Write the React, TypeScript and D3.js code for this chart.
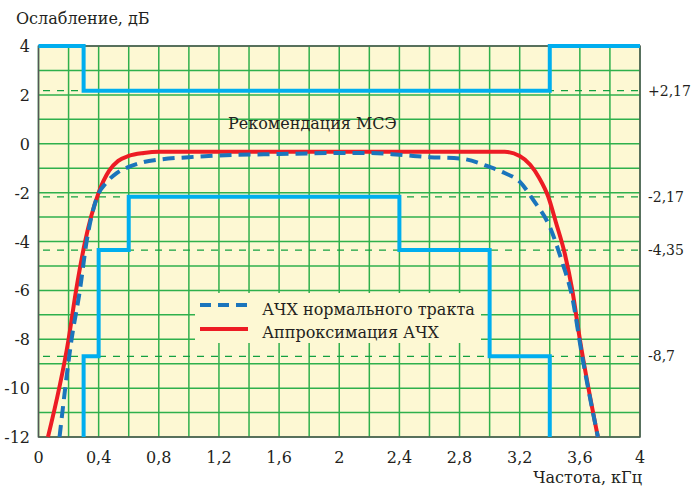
import React from "react"
import * as d3 from "d3"

const width = 693
const height = 486

// АЧХ нормального тракта (dashed blue)
const normX = [0.14, 0.22, 0.275, 0.32, 0.39, 0.45, 0.52, 0.6, 0.7, 0.8, 1.0, 1.2, 1.6, 2.0, 2.2, 2.4, 2.6, 2.8, 3.0, 3.1, 3.2, 3.29, 3.4, 3.48, 3.55, 3.61, 3.72]
const normY = [-12, -8, -6, -4, -2.17, -1.6, -1.2, -0.95, -0.75, -0.65, -0.55, -0.48, -0.42, -0.38, -0.38, -0.45, -0.55, -0.6, -0.95, -1.2, -1.55, -2.3, -3.4, -4.8, -6.3, -8.5, -12]

// Аппроксимация АЧХ (red)
const apprX = [0.063, 0.2, 0.25, 0.31, 0.4, 0.47, 0.53, 0.6, 0.7, 0.8, 3.1, 3.2, 3.27, 3.33, 3.39, 3.44, 3.5, 3.55, 3.6, 3.72]
const apprY = [-12, -8, -6, -4, -2, -1.1, -0.7, -0.5, -0.38, -0.33, -0.33, -0.5, -0.86, -1.4, -2.17, -3.2, -4.5, -6, -8, -12]

// Рекомендация МСЭ masks (step lines)
const upperX = [0, 0.3, 0.3, 3.4, 3.4, 4]
const upperY = [4, 4, 2.17, 2.17, 4, 4]
const lowerX = [0.3, 0.3, 0.4, 0.4, 0.6, 0.6, 2.4, 2.4, 3.0, 3.0, 3.4, 3.4]
const lowerY = [-12, -8.7, -8.7, -4.35, -4.35, -2.17, -2.17, -4.35, -4.35, -8.7, -8.7, -12]

const refLevels = [2.17, -2.17, -4.35, -8.7]
const refLabels = ["+2,17", "-2,17", "-4,35", "-8,7"]
const xTicks = [0, 0.4, 0.8, 1.2, 1.6, 2, 2.4, 2.8, 3.2, 3.6, 4]
const yTicks = [4, 2, 0, -2, -4, -6, -8, -10, -12]

const font = "DejaVu Serif"
const ink = "#231f20"
const green = "#2fb04c"
const bg = "#fdf8d3"

const App = () => {
  const x = d3.scaleLinear().domain([0, 4]).range([38.5, 640])
  const y = d3.scaleLinear().domain([-12, 4]).range([437, 46])
  const [x0, x1] = x.range()
  const [y0, y1] = y.range()

  const line = (xs: number[], ys: number[], curve: d3.CurveFactory) =>
    d3.line<number>().x(i => x(xs[i])).y(i => y(ys[i])).curve(curve)(xs.map((_, i) => i)) || ""

  const vGrid = d3.range(0, 4.001, 0.2)
  const hGrid = d3.range(-12, 4.001, 1)
  const legend = { x: 195, y: 293, w: 286, h: 50 }

  const T = (props: any) => <text fontFamily={font} fill={ink} fontSize={16} {...props} />

  return (
    <svg width={width} height={height} style={{ position: "absolute", left: 0, top: 0 }}>
      <rect x={x0} y={y1} width={x1 - x0} height={y0 - y1} fill={bg} />
      {vGrid.map(v => (
        <line key={"v" + v} x1={x(v)} x2={x(v)} y1={y1} y2={y0} stroke={green} strokeWidth={1.5} />
      ))}
      {hGrid.map(v => (
        <line key={"h" + v} x1={x0} x2={x1} y1={y(v)} y2={y(v)} stroke={green} strokeWidth={1.5} />
      ))}
      <rect x={legend.x} y={legend.y} width={legend.w} height={legend.h} fill={bg} />
      <rect x={x0} y={y1} width={x1 - x0} height={y0 - y1} fill="none" stroke="#555" strokeWidth={1.5} />

      {refLevels.map((v, i) => (
        <g key={"r" + v}>
          <line x1={43} x2={645} y1={y(v)} y2={y(v)} stroke="#13a040" strokeWidth={1.2} strokeDasharray="7,7" />
          <T x={648} y={y(v) + 5} fontSize={14}>{refLabels[i]}</T>
        </g>
      ))}

      <path d={line(upperX, upperY, d3.curveLinear)} fill="none" stroke="#00aeef" strokeWidth={4} />
      <path d={line(lowerX, lowerY, d3.curveLinear)} fill="none" stroke="#00aeef" strokeWidth={4} />
      <path d={line(apprX, apprY, d3.curveMonotoneX)} fill="none" stroke="#ed1c24" strokeWidth={4} />
      <path d={line(normX, normY, d3.curveMonotoneX)} fill="none" stroke="#1b75bc" strokeWidth={4} strokeDasharray="12,7" />

      <T x={228} y={129}>Рекомендация МСЭ</T>

      <line x1={200} x2={248} y1={305} y2={305} stroke="#1b75bc" strokeWidth={4} strokeDasharray="11,7" />
      <line x1={200} x2={248} y1={329} y2={329} stroke="#ed1c24" strokeWidth={4} />
      <T x={262} y={315}>АЧХ нормального тракта</T>
      <T x={262} y={338}>Аппроксимация АЧХ</T>

      {yTicks.map(v => (
        <T key={"yt" + v} x={30} y={y(v) + 6} textAnchor="end">{String(v)}</T>
      ))}
      {xTicks.map(v => (
        <T key={"xt" + v} x={x(v)} y={463} textAnchor="middle">
          {String(v).replace(".", ",")}
        </T>
      ))}
      <T x={16} y={24}>Ослабление, дБ</T>
      <T x={642} y={483} textAnchor="end">Частота, кГц</T>
    </svg>
  )
}

export default App
